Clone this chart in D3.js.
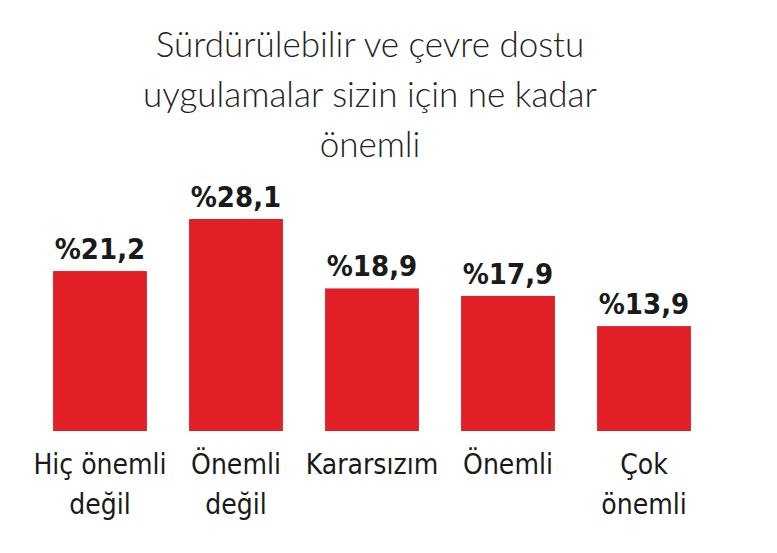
<!DOCTYPE html><html><head><meta charset="utf-8">
<script src="https://cdn.jsdelivr.net/npm/d3@7"></script>
<style>body{margin:0;background:#fff}</style></head><body>
<svg id="c" width="777" height="553"></svg>
<script>
const categories=[["Hiç önemli","değil"],["Önemli","değil"],["Kararsızım"],["Önemli"],["Çok","önemli"]];
const values=[21.2,28.1,18.9,17.9,13.9];
const titleLines=["Sürdürülebilir ve çevre dostu","uygulamalar sizin için ne kadar","önemli"];
const svg=d3.select("#c");
const x=d3.scaleBand().domain(d3.range(values.length)).range([32,712]).paddingInner(0.31).paddingOuter(0.155);
const y=d3.scaleLinear().domain([0,28.1]).range([431,219]);
svg.selectAll("text.t").data(titleLines).join("text").attr("x",370).attr("y",(d,i)=>57+i*50)
 .attr("text-anchor","middle").attr("font-family","Lato").attr("font-weight",300).attr("font-size",35).attr("fill","#222").text(d=>d);
svg.selectAll("rect").data(values).join("rect").attr("x",(d,i)=>x(i)).attr("width",x.bandwidth())
 .attr("y",d=>y(d)).attr("height",d=>y(0)-y(d)).attr("fill","#e01f26");
const cond="'Liberation Sans Narrow','DejaVu Sans Condensed',sans-serif";
svg.selectAll("text.v").data(values).join("text").attr("x",(d,i)=>x(i)+x.bandwidth()/2).attr("y",d=>y(d)-12)
 .attr("text-anchor","middle").attr("font-family",cond).attr("font-weight","bold").attr("font-size",29).attr("fill","#1a1a1a")
 .text(d=>"%"+d.toFixed(1).replace(".",","));
categories.forEach((lines,i)=>{lines.forEach((l,j)=>{
 svg.append("text").attr("x",x(i)+x.bandwidth()/2).attr("y",474+j*40).attr("text-anchor","middle")
 .attr("font-family",cond).attr("font-size",28).attr("fill","#1a1a1a").text(l);});});
</script></body></html>
